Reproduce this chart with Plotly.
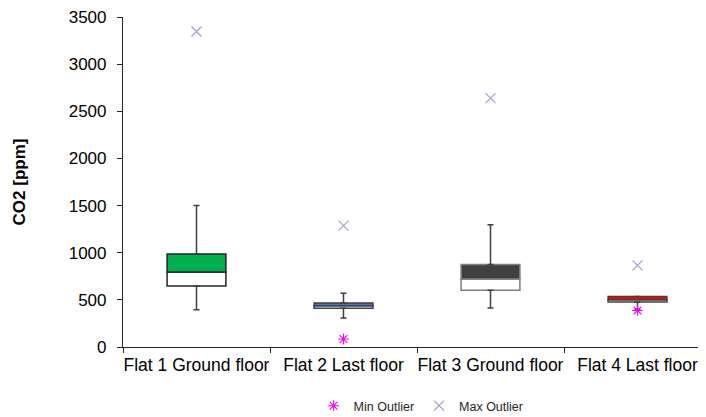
import plotly.graph_objects as go

categories = ["Flat 1 Ground floor", "Flat 2 Last floor", "Flat 3 Ground floor", "Flat 4 Last floor"]
whisker_min = [395, 307, 413, 400]
q1 = [647, 410, 601, 477]
median = [795, 438, 721, 502]
q3 = [986, 467, 876, 535]
whisker_max = [1502, 570, 1297, 535]
min_outlier = [None, 85, None, 388]
max_outlier = [3347, 1288, 2641, 866]
y_ticks = [0, 500, 1000, 1500, 2000, 2500, 3000, 3500]
upper_colors = ["#00B050", "#3D7BD6", "#404040", "#FF0000"]
outline_colors = ["#262626", "#404040", "#7F7F7F", "#404040"]

FONT = "Liberation Sans, Arial, sans-serif"

fig = go.Figure()

# lower box: Q1 -> median (white)
fig.add_trace(go.Bar(
    x=categories, base=q1, y=[m - a for m, a in zip(median, q1)],
    width=0.4, marker=dict(color="white", line=dict(color=outline_colors, width=1.5)),
    showlegend=False, hoverinfo="skip"))
# upper box: median -> Q3 (coloured)
fig.add_trace(go.Bar(
    x=categories, base=median, y=[b - m for b, m in zip(q3, median)],
    width=0.4, marker=dict(color=upper_colors, line=dict(color=outline_colors, width=1.5)),
    showlegend=False, hoverinfo="skip"))

# whiskers
fig.add_trace(go.Scatter(
    x=categories, y=q1, mode="markers", marker=dict(size=1, opacity=0),
    error_y=dict(type="data", symmetric=False, array=[0] * 4,
                 arrayminus=[a - w for a, w in zip(q1, whisker_min)],
                 color="#404040", thickness=1.5, width=3),
    showlegend=False, hoverinfo="skip"))
fig.add_trace(go.Scatter(
    x=categories, y=q3, mode="markers", marker=dict(size=1, opacity=0),
    error_y=dict(type="data", symmetric=False, arrayminus=[0] * 4,
                 array=[w - b for w, b in zip(whisker_max, q3)],
                 color="#404040", thickness=1.5, width=3),
    showlegend=False, hoverinfo="skip"))

# outliers
fig.add_trace(go.Scatter(
    x=categories, y=min_outlier, mode="markers", name="Min Outlier",
    marker=dict(symbol="asterisk-open", size=9, color="#FF00FF",
                line=dict(color="#FF00FF", width=1.1))))
fig.add_trace(go.Scatter(
    x=categories, y=max_outlier, mode="markers", name="Max Outlier",
    marker=dict(symbol="x-thin-open", size=10, color="#A99BCF",
                line=dict(color="#A99BCF", width=1.2))))

fig.update_layout(
    width=706, height=417,
    margin=dict(l=115, r=3, t=9, b=78, autoexpand=False),
    paper_bgcolor="white", plot_bgcolor="white",
    barmode="overlay",
    font=dict(family=FONT, color="#000000"),
    showlegend=True,
    legend=dict(orientation="h", x=0.507, y=-0.179, xanchor="center", yanchor="middle",
                font=dict(size=12.5, family=FONT, color="#262626"),
                itemwidth=30, tracegroupgap=0, bgcolor="rgba(0,0,0,0)"),
)
fig.update_xaxes(
    type="category", categoryorder="array", categoryarray=categories,
    range=[-0.5, 3.5], showline=True, linecolor="#262626", linewidth=1.2,
    ticks="outside", tickson="boundaries", ticklen=5, tickcolor="#262626",
    showgrid=False, zeroline=False, tickangle=0, automargin=False,
    ticklabelstandoff=2,
    tickfont=dict(size=17.5, family=FONT, color="#000000"))
fig.update_yaxes(
    range=[0, 3501], tickmode="array", tickvals=y_ticks,
    ticktext=[str(v) for v in y_ticks],
    showline=True, linecolor="#262626", linewidth=1.2,
    ticks="outside", ticklen=5, tickcolor="#262626",
    showgrid=False, zeroline=False, automargin=False,
    ticklabelstandoff=7,
    tickfont=dict(size=17, family=FONT, color="#000000"),
    title=dict(text="<b>CO2 [ppm]</b>", font=dict(size=17, family=FONT, color="#000000"),
               standoff=38))

fig.write_html("out.html")
